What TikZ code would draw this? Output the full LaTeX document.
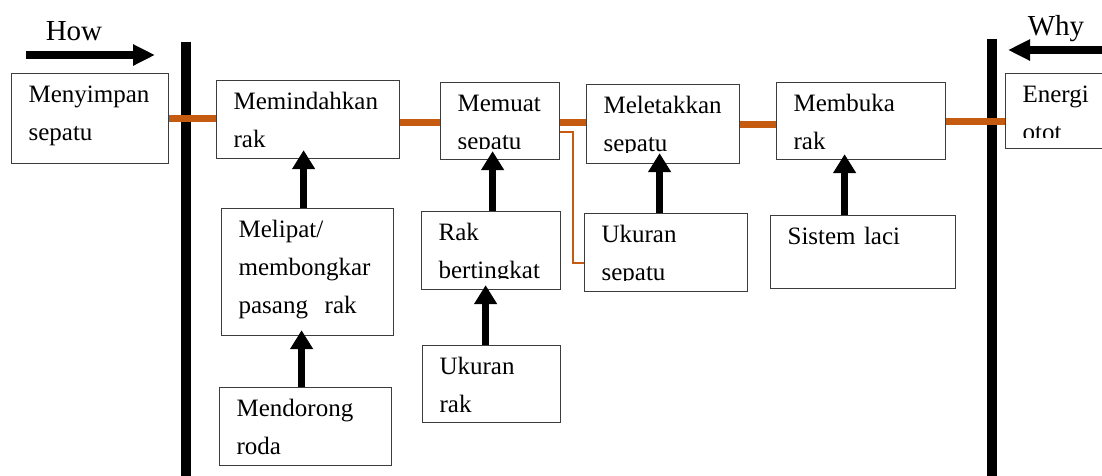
\documentclass[tikz,border=0pt]{standalone}
\usepackage{fontspec}
\setmainfont{Liberation Serif}
\usepackage{xcolor}
\definecolor{fastorange}{RGB}{197, 90, 17}
\definecolor{fastgray}{RGB}{60, 60, 60}
\usetikzlibrary{arrows.meta, positioning, calc}
\hyphenpenalty=10000
\exhyphenpenalty=10000

\begin{document}
\begin{tikzpicture}[
    x=1pt, y=-1pt,
    fbox/.style n args={3}{draw=fastgray, line width=1.2pt, anchor=north west, align=left,
        font=\fontsize{25}{38}\selectfont, inner xsep=17pt, inner ysep=12pt,
        text width=#1pt, text height=16.5pt, text depth=#2pt, minimum height=#3pt},
    uparrow/.style={draw, line width=7pt, -{Triangle[width=22pt,length=19pt]}},
    bigarrow/.style={draw, line width=8pt, -{Triangle[width=20pt,length=22pt]}},
    bar/.style={draw, line width=10pt},
    link/.style={draw=fastorange, line width=7pt},
    thinlink/.style={draw=fastorange, line width=2pt}
]
\useasboundingbox (0,0) rectangle (1102,475);

% How / Why
\node[anchor=base, font=\fontsize{29}{34}\selectfont] (how) at (74,40) {How};
\node[anchor=base, font=\fontsize{29}{34}\selectfont] (why) at (1056,35) {Why};
\coordinate (howstart) at (26,55);
\coordinate (howend) at (155,55);
\coordinate (whystart) at (1115,50);
\coordinate (whyend) at (1008,50);
\draw[bigarrow] (howstart) -- (howend);
\draw[bigarrow] (whystart) -- (whyend);

% Batas kiri dan kanan
\coordinate (lefttop) at (186,42);
\coordinate (leftbot) at (186,480);
\coordinate (righttop) at (991.5,39);
\coordinate (rightbot) at (991.5,480);
\draw[bar] (lefttop) -- (leftbot);
\draw[bar] (righttop) -- (rightbot);

% Fungsi utama
\node[fbox={123}{49.5}{0}] (menyimpan) at (11,73) {Menyimpan\\sepatu};
\node[fbox={149}{37.5}{0}] (memindahkan) at (216,80) {Memindahkan\\rak};
\node[fbox={85}{36.5}{0}] (memuat) at (440,82) {Memuat\\sepatu};
\node[fbox={119}{38.5}{0}] (meletakkan) at (586,84) {Meletakkan\\sepatu};
\node[fbox={135}{36.5}{0}] (membuka) at (776,82) {Membuka\\rak};
\node[fbox={96}{34.5}{0}] (energi) at (1005,73) {Energi\\otot};

% Fungsi pendukung
\node[fbox={138}{86.5}{0}] (melipat) at (221,208) {Melipat/\\membongkar\\pasang\ \ rak};
\node[fbox={138}{37.5}{0}] (mendorong) at (219,387) {Mendorong\\roda};
\node[fbox={105}{37.5}{0}] (rakbert) at (421,211) {Rak\\bertingkat};
\node[fbox={104}{36.5}{0}] (ukuranrak) at (422,345) {Ukuran\\rak};
\node[fbox={129}{37.5}{0}] (ukuransepatu) at (584,213) {Ukuran\\sepatu};
\node[fbox={151}{32.5}{0}] (sistemlaci) at (770,215) {Sistem laci};

% Teks terpotong di bawah kotak
\foreach \b in {memuat, meletakkan, rakbert, ukuransepatu, energi} {
    \fill[white] ([xshift=1pt,yshift=1pt]\b.south west) rectangle ([xshift=-1pt,yshift=11pt]\b.south east);
}

% Garis fungsi
\draw[link] (menyimpan.east) -- (menyimpan.east -| memindahkan.west);
\draw[link] ([yshift=-3pt]memindahkan.east) -- ([yshift=-3pt]memindahkan.east -| memuat.west);
\draw[link] ([yshift=-1.5pt]memuat.east) -- ([yshift=-1.5pt]memuat.east -| meletakkan.west);
\draw[link] (meletakkan.east) -- (meletakkan.east -| membuka.west);
\draw[link] (membuka.east) -- (membuka.east -| energi.west);
\draw[thinlink] ([yshift=-10.5pt]memuat.east) -- ++(13,0) |- ([yshift=-10pt]ukuransepatu.west);

% Panah pendukung
\draw[uparrow] ([xshift=-4pt]melipat.north) -- ([xshift=-4pt,yshift=9pt]melipat.north |- memindahkan.south);
\draw[uparrow] ([xshift=-4pt]mendorong.north) -- ([xshift=-4pt,yshift=6pt]mendorong.north |- melipat.south);
\draw[uparrow] ([xshift=1.5pt]rakbert.north) -- ([xshift=1.5pt,yshift=9pt]rakbert.north |- memuat.south);
\draw[uparrow] ([xshift=-6pt]ukuranrak.north) -- ([xshift=-6pt,yshift=5pt]ukuranrak.north |- rakbert.south);
\draw[uparrow] ([xshift=-6.5pt]ukuransepatu.north) -- ([xshift=-6.5pt,yshift=11pt]ukuransepatu.north |- meletakkan.south);
\draw[uparrow] ([xshift=-18.5pt]sistemlaci.north) -- ([xshift=-18.5pt,yshift=6pt]sistemlaci.north |- membuka.south);

\end{tikzpicture}
\end{document}
